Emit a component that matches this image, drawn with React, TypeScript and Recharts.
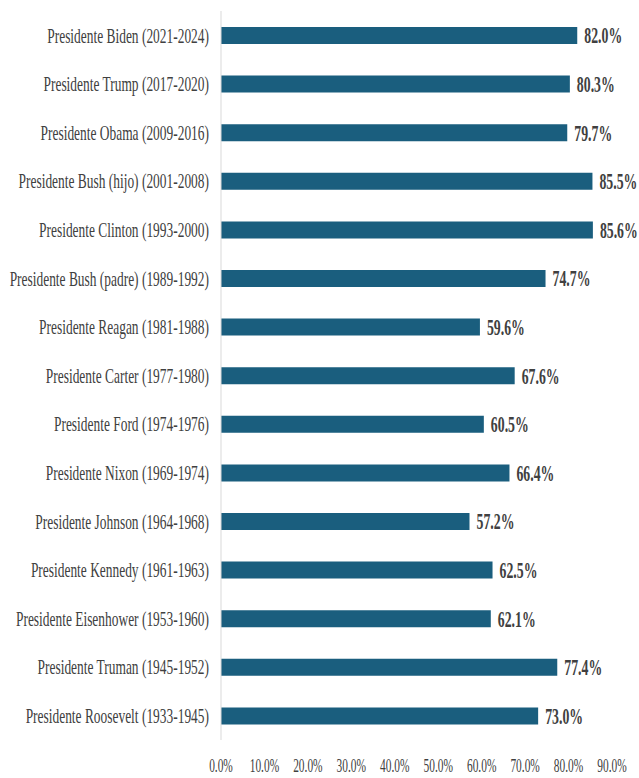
import * as React from "react";
import { BarChart, Bar, XAxis, YAxis, LabelList } from "recharts";

// Approval by president, top row first
const presidents = [
  "Presidente Biden (2021-2024)",
  "Presidente Trump (2017-2020)",
  "Presidente Obama (2009-2016)",
  "Presidente Bush (hijo) (2001-2008)",
  "Presidente Clinton (1993-2000)",
  "Presidente Bush (padre) (1989-1992)",
  "Presidente Reagan (1981-1988)",
  "Presidente Carter (1977-1980)",
  "Presidente Ford (1974-1976)",
  "Presidente Nixon (1969-1974)",
  "Presidente Johnson (1964-1968)",
  "Presidente Kennedy (1961-1963)",
  "Presidente Eisenhower (1953-1960)",
  "Presidente Truman (1945-1952)",
  "Presidente Roosevelt (1933-1945)",
];
const values = [82.0, 80.3, 79.7, 85.5, 85.6, 74.7, 59.6, 67.6, 60.5, 66.4, 57.2, 62.5, 62.1, 77.4, 73.0];
const xTicks = [0, 10, 20, 30, 40, 50, 60, 70, 80, 90];

const data = presidents.map((name, i) => ({ name, value: values[i] }));

const BAR = "#1a5e7e";
const TEXT = "#404040";
const FONT = "'Liberation Serif', 'Times New Roman', serif";
const SQUEEZE = 0.6; // the reference text is very narrow

const pct = (v: number) => `${v.toFixed(1)}%`;

function NameTick({ x, y, payload }: any) {
  return (
    <text transform={`translate(${x - 1},${y}) scale(${SQUEEZE + 0.01},1)`} textAnchor="end"
          dominantBaseline="central" fontFamily={FONT} fontSize={22} fill={TEXT}>
      {payload.value}
    </text>
  );
}

function PctTick({ x, y, payload }: any) {
  return (
    <text transform={`translate(${x},${y + 24}) scale(${SQUEEZE},1)`} textAnchor="middle"
          fontFamily={FONT} fontSize={19} fill={TEXT}>
      {pct(payload.value)}
    </text>
  );
}

function ValueLabel({ x, y, width, height, value }: any) {
  return (
    <text transform={`translate(${x + width + 7},${y + height / 2}) scale(${SQUEEZE},1)`}
          dominantBaseline="central" fontFamily={FONT} fontSize={23} fontWeight="bold" fill={TEXT}>
      {pct(value)}
    </text>
  );
}

export default function App() {
  return (
    <div style={{ position: "absolute", left: 0, top: 0, background: "#fff" }}>
      <BarChart width={639} height={778} data={data} layout="vertical"
                margin={{ top: 11, right: 27, bottom: 0, left: 0 }}>
        <XAxis type="number" domain={[0, 90]} ticks={xTicks} height={38}
               axisLine={false} tickLine={false} tick={<PctTick />} interval={0} />
        <YAxis type="category" dataKey="name" width={221} interval={0}
               axisLine={{ stroke: "#d9d9d9" }} tickLine={false} tickSize={0} tickMargin={11}
               tick={<NameTick />} />
        <Bar dataKey="value" fill={BAR} barSize={17} isAnimationActive={false}>
          <LabelList dataKey="value" content={<ValueLabel />} />
        </Bar>
      </BarChart>
    </div>
  );
}
